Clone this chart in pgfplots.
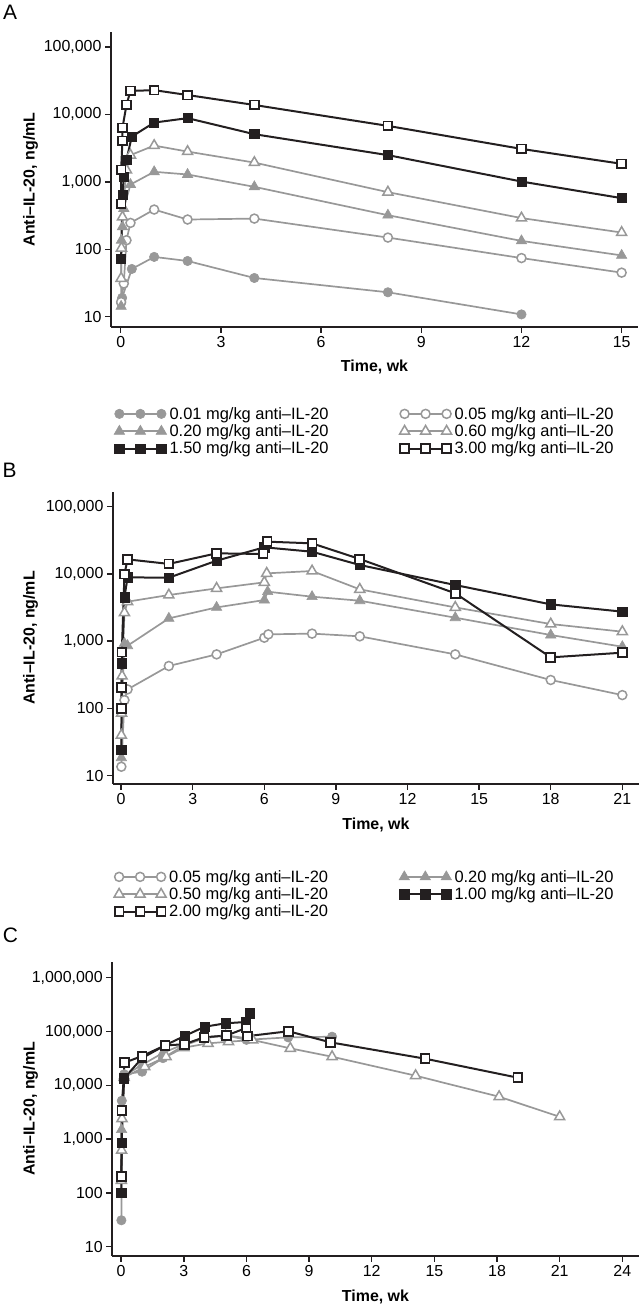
\documentclass[border=0pt]{standalone}
\usepackage{fontspec}
\setmainfont{Liberation Sans}
\usepackage{pgfplots}
\pgfplotsset{compat=1.18}

\definecolor{gr}{RGB}{152,152,152}
\definecolor{bk}{RGB}{35,31,32}

\pgfplotsset{
  every axis/.append style={
    scale only axis, axis lines=left,
    axis line style={-, line width=1.6bp, bk},
    tick align=outside, major tick length=6bp,
    tick style={line width=1.4bp, bk},
    ticklabel style={font=\fontsize{16}{19}\selectfont, text=black},
    label style={font=\bfseries\fontsize{16}{19}\selectfont},
    clip=false,
    legend columns=2, legend cell align=left,
    legend style={draw=none, fill=none, anchor=north west,
      font=\fontsize{16.5}{19}\selectfont,
      /tikz/every odd column/.append style={column sep=1bp},
      /tikz/every even column/.append style={column sep=69bp}},
  },
  legend image code/.code={\draw[mark repeat=1,mark phase=1,#1]
      plot coordinates {(0bp,0bp) (21bp,0bp) (42bp,0bp)};},
  gfc/.style={color=gr, line width=1.7bp, mark=*, mark size=4.7bp,
    mark options={solid, fill=gr, draw=gr, line width=0.6bp}},
  goc/.style={color=gr, line width=1.7bp, mark=*, mark size=4.5bp,
    mark options={solid, fill=white, draw=gr, line width=1.5bp}},
  gft/.style={color=gr, line width=1.7bp, mark=triangle*, mark size=6bp,
    mark options={solid, fill=gr, draw=gr, line width=0.6bp}},
  got/.style={color=gr, line width=1.7bp, mark=triangle*, mark size=5.8bp,
    mark options={solid, fill=white, draw=gr, line width=1.5bp}},
  bfs/.style={color=bk, line width=2bp, mark=square*, mark size=4.6bp,
    mark options={solid, fill=bk, draw=bk, line width=0.6bp}},
  bos/.style={color=bk, line width=2bp, mark=square*, mark size=4.4bp,
    mark options={solid, fill=white, draw=bk, line width=1.8bp}},
}

\begin{document}
\begin{tikzpicture}
\path[use as bounding box] (0,0) rectangle (640bp,1305bp);

\node[font=\fontsize{21}{24}\selectfont] at (10bp,1292.5bp) {A};
\node[font=\fontsize{21}{24}\selectfont] at (9.5bp,835bp) {B};
\node[font=\fontsize{21}{24}\selectfont] at (10.5bp,370bp) {C};

% ---------- A ----------
\begin{axis}[ymode=log, yminorticks=false,
    at={(111bp,978bp)}, anchor=south west,
    width=527bp, height=295bp,
    xmin=-0.293, xmax=15.49, ymin=7.03, ymax=166983,
    xtick={0,3,6,9,12,15}, xticklabels={0,3,6,9,12,15},
    ytick={10,100,1000,10000,100000},
    yticklabels={10,100,{1,000},{10,000},{100,000}},
    xlabel={Time, wk}, ylabel={Anti–IL-20, ng/mL},
    xlabel style={at={(axis description cs:0.5,-0.1356)}, anchor=center},
    ylabel style={at={(axis description cs:-0.1526,0.5)}, anchor=center},
    legend style={at={(axis description cs:0.0,-0.2576)}},
  ]
  \addplot[gfc] coordinates {(0.01,16) (0.04,19) (0.33,51) (1,77) (2,67) (4,37.5) (8,23) (12,10.8)};
  \addlegendentry{0.01 mg/kg anti–IL-20}
  \addplot[goc] coordinates {(0.01,16.5) (0.09,31) (0.17,136) (0.29,246) (1,388) (2,276) (4,285) (8,149) (12,74) (15,45)};
  \addlegendentry{0.05 mg/kg anti–IL-20}
  \addplot[gft] coordinates {(0.01,14.2) (0.02,136) (0.05,215) (0.09,402) (0.29,912) (1,1409) (2,1285) (4,843) (8,320) (12,133) (15,81)};
  \addlegendentry{0.20 mg/kg anti–IL-20}
  \addplot[got] coordinates {(0.01,37) (0.02,104) (0.05,300) (0.17,1500) (0.29,2490) (1,3450) (2,2810) (4,1930) (8,703) (12,290) (15,177)};
  \addlegendentry{0.60 mg/kg anti–IL-20}
  \addplot[bfs] coordinates {(0.01,72) (0.05,641) (0.09,1175) (0.17,2120) (0.33,4690) (1,7570) (2,8800) (4,5090) (8,2490) (12,1010) (15,573)};
  \addlegendentry{1.50 mg/kg anti–IL-20}
  \addplot[bos] coordinates {(0.01,472) (0.01,1506) (0.05,4050) (0.05,6300) (0.17,13800) (0.29,22300) (1,22900) (2,19400) (4,13800) (8,6760) (12,3080) (15,1850)};
  \addlegendentry{3.00 mg/kg anti–IL-20}
\end{axis}

% ---------- B ----------
\begin{axis}[ymode=log, yminorticks=false,
    at={(113bp,521bp)}, anchor=south west,
    width=525.8bp, height=292bp,
    xmin=-0.34, xmax=21.69, ymin=7.53, ymax=165400,
    xtick={0,3,6,9,12,15,18,21}, xticklabels={0,3,6,9,12,15,18,21},
    ytick={10,100,1000,10000,100000},
    yticklabels={10,100,{1,000},{10,000},{100,000}},
    xlabel={Time, wk}, ylabel={Anti–IL-20, ng/mL},
    xlabel style={at={(axis description cs:0.5,-0.1404)}, anchor=center},
    ylabel style={at={(axis description cs:-0.1567,0.5)}, anchor=center},
    legend style={at={(axis description cs:-0.004,-0.2808)}},
  ]
  \addplot[goc] coordinates {(0.01,13.6) (0.14,133) (0.27,192) (2,428) (4,637) (6,1127) (6.17,1264) (8,1296) (10,1181) (14,637) (18,265) (21,158)};
  \addlegendentry{0.05 mg/kg anti–IL-20}
  \addplot[gft] coordinates {(0.01,18.5) (0.02,84.5) (0.14,928) (0.27,857) (2,2185) (4,3180) (6,4090) (6.14,5450) (8,4590) (10,4000) (14,2235) (18,1236) (21,828)};
  \addlegendentry{0.20 mg/kg anti–IL-20}
  \addplot[got] coordinates {(0.01,40) (0.02,85) (0.04,303) (0.14,2650) (0.27,3870) (2,4860) (4,6100) (6,7500) (6.1,10200) (8,11050) (10,5900) (14,3180) (18,1800) (21,1385)};
  \addlegendentry{0.50 mg/kg anti–IL-20}
  \addplot[bfs] coordinates {(0.01,24) (0.03,468) (0.14,4490) (0.27,8890) (2,8800) (4,15740) (6,24900) (8,21400) (10,13580) (14,6840) (18,3530) (21,2750)};
  \addlegendentry{1.00 mg/kg anti–IL-20}
  \addplot[bos] coordinates {(0.01,100) (0.02,206) (0.03,690) (0.14,9970) (0.27,16480) (2,14100) (4,20250) (5.95,19800) (6.12,30200) (8,28500) (10,16670) (14,5150) (18,575) (21,675)};
  \addlegendentry{2.00 mg/kg anti–IL-20}
\end{axis}

% ---------- C ----------
\begin{axis}[ymode=log, yminorticks=false,
    at={(112.2bp,49bp)}, anchor=south west,
    width=526.6bp, height=294.3bp,
    xmin=-0.43, xmax=24.79, ymin=6.72, ymax=1983000,
    xtick={0,3,6,9,12,15,18,21,24}, xticklabels={0,3,6,9,12,15,18,21,24},
    ytick={10,100,1000,10000,100000,1000000},
    yticklabels={10,100,{1,000},{10,000},{100,000},{1,000,000}},
    xlabel={Time, wk}, ylabel={Anti–IL-20, ng/mL},
    xlabel style={at={(axis description cs:0.5,-0.1383)}, anchor=center},
    ylabel style={at={(axis description cs:-0.155,0.5)}, anchor=center},
  ]
  \addplot[gfc] coordinates {(0.01,31) (0.03,5170) (0.14,16000) (1,17900) (2,32000) (3,55000) (4,75000) (5,85000) (6,70000) (8,77800) (10.1,80000)};
  \addplot[gft] coordinates {(0.01,180) (0.02,1500) (0.14,15000) (1,24000) (2,40000) (3,58000) (4,78000) (5,85000) (6,75000)};
  \addplot[got] coordinates {(0.01,170) (0.02,620) (0.04,2400) (0.14,14000) (1.13,22100) (2.15,34000) (3,50000) (4.16,60200) (5.14,64600) (6.3,69400) (8.1,48600) (10.1,34000) (14.1,15100) (18.1,6140) (21,2600)};
  \addplot[bfs] coordinates {(0.01,102) (0.02,857) (0.14,13500) (1,32000) (2.1,55300) (3.03,82400) (4,122700) (5,142000) (5.95,150000) (6.15,217000)};
  \addplot[bos] coordinates {(0.01,200) (0.03,3370) (0.16,26300) (1,35000) (2.1,55000) (3.03,58000) (3.97,78000) (5.04,84000) (5.98,116000) (6.05,82000) (8.01,101000) (10.03,62800) (14.56,31200) (19,13840)};
\end{axis}
\end{tikzpicture}
\end{document}
